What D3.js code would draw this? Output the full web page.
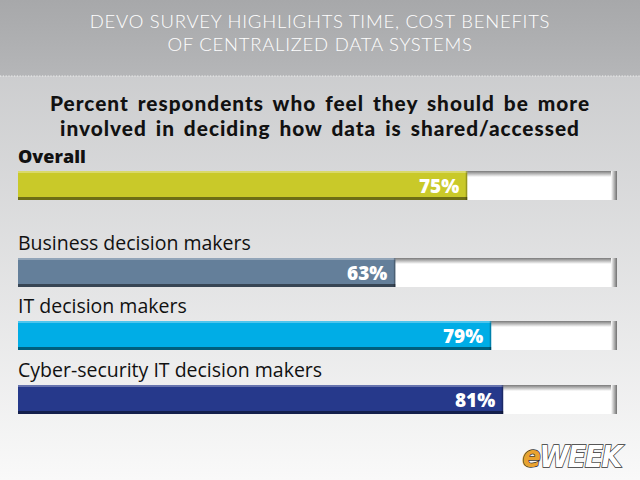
<!DOCTYPE html>
<html>
<head>
<meta charset="utf-8">
<script src="https://cdnjs.cloudflare.com/ajax/libs/d3/7.8.5/d3.min.js"></script>
<style>
  body { margin: 0; }
  svg { display: block; }
</style>
</head>
<body>
<div id="chart"></div>
<script>
// Data
const categories = ["Overall", "Business decision makers", "IT decision makers", "Cyber-security IT decision makers"];
const values = [75, 63, 79, 81];
const barColors = ["#c9c929", "#647f9a", "#00ade6", "#26398b"];
const titleLines = ["DEVO SURVEY HIGHLIGHTS TIME, COST BENEFITS", "OF CENTRALIZED DATA SYSTEMS"];
const subtitleLines = ["Percent respondents who feel they should be more", "involved in deciding how data is shared/accessed"];

const width = 640;
const height = 480;

const svg = d3.select("#chart")
  .append("svg")
  .attr("width", width)
  .attr("height", height);

const defs = svg.append("defs");

// background gradient (lower panel)
const bg = defs.append("linearGradient")
  .attr("id", "bg").attr("x1", 0).attr("y1", 0).attr("x2", 0).attr("y2", 1);
bg.append("stop").attr("offset", "0%").attr("stop-color", "#c4c5c7");
bg.append("stop").attr("offset", "100%").attr("stop-color", "#f9f9f9");

const head = defs.append("linearGradient")
  .attr("id", "head").attr("x1", 0).attr("y1", 0).attr("x2", 0).attr("y2", 1);
head.append("stop").attr("offset", "0%").attr("stop-color", "#a7a8aa");
head.append("stop").attr("offset", "100%").attr("stop-color", "#b5b6b8");

svg.append("rect").attr("width", width).attr("height", height).attr("fill", "url(#bg)");
svg.append("rect").attr("width", width).attr("height", 76).attr("fill", "url(#head)");

// dotted separator
svg.append("line")
  .attr("x1", 0).attr("x2", width).attr("y1", 76).attr("y2", 76)
  .attr("stroke", "#f2f2f2").attr("stroke-width", 1.2)
  .attr("stroke-dasharray", "1.2,1.6");

// header title, one text per line
svg.selectAll(".title")
  .data(titleLines)
  .enter()
  .append("text")
  .attr("class", "title")
  .attr("x", width / 2)
  .attr("y", (d, i) => 28 + i * 23)
  .attr("text-anchor", "middle")
  .attr("fill", "#ffffff")
  .style("font-family", "Lato, 'Open Sans', sans-serif")
  .style("font-weight", 300)
  .style("font-size", "18.5px")
  .style("letter-spacing", "0.75px")
  .text(d => d);

// subtitle
svg.selectAll(".subtitle")
  .data(subtitleLines)
  .enter()
  .append("text")
  .attr("class", "subtitle")
  .attr("x", width / 2)
  .attr("y", (d, i) => 111 + i * 25)
  .attr("text-anchor", "middle")
  .attr("fill", "#111111")
  .style("font-family", "Lato, 'Open Sans', sans-serif")
  .style("font-weight", 900)
  .style("font-size", "20.8px")
  .style("letter-spacing", "1px")
  .style("word-spacing", "3px")
  .text(d => d);

// scales
const xScale = d3.scaleLinear().domain([0, 100]).range([18, 617]);
const barTops = [171, 258, 321, 385];   // vertical slots
const yScale = d3.scaleOrdinal().domain(categories).range(barTops);
const barH = 29;

// gradients for track shadow
const trackShade = defs.append("linearGradient")
  .attr("id", "trackShade").attr("x1", 0).attr("y1", 0).attr("x2", 0).attr("y2", 1);
trackShade.append("stop").attr("offset", "0%").attr("stop-color", "#7a7a7a");
trackShade.append("stop").attr("offset", "100%").attr("stop-color", "#ffffff");
const trackSide = defs.append("linearGradient")
  .attr("id", "trackSide").attr("x1", 0).attr("y1", 0).attr("x2", 1).attr("y2", 0);
trackSide.append("stop").attr("offset", "0%").attr("stop-color", "#ffffff");
trackSide.append("stop").attr("offset", "100%").attr("stop-color", "#707070");

const rows = svg.selectAll(".row")
  .data(categories)
  .enter()
  .append("g")
  .attr("class", "row")
  .attr("transform", d => `translate(0,${yScale(d)})`);

// labels
rows.append("text")
  .attr("x", xScale(0))
  .attr("y", -8)
  .attr("fill", "#111111")
  .style("font-family", "'Open Sans', 'Noto Sans', sans-serif")
  .style("font-size", (d, i) => i === 0 ? "18px" : "19.5px")
  .style("font-weight", (d, i) => i === 0 ? 800 : 400)
  .text(d => d);

// white track
rows.append("rect")
  .attr("x", xScale(0))
  .attr("y", 0)
  .attr("width", xScale(100) - xScale(0))
  .attr("height", barH)
  .attr("fill", "#ffffff");
rows.append("rect")
  .attr("x", xScale(0))
  .attr("y", 0)
  .attr("width", xScale(100) - xScale(0))
  .attr("height", 6)
  .attr("fill", "url(#trackShade)");
rows.append("rect")
  .attr("x", xScale(100) - 6)
  .attr("y", 0)
  .attr("width", 6)
  .attr("height", barH)
  .attr("fill", "url(#trackSide)");

// filled bar
rows.append("rect")
  .attr("x", xScale(0))
  .attr("y", 0)
  .attr("width", (d, i) => xScale(values[i]) - xScale(0))
  .attr("height", barH)
  .attr("fill", (d, i) => barColors[i]);
// light top edge
rows.append("rect")
  .attr("x", xScale(0))
  .attr("y", 0)
  .attr("width", (d, i) => xScale(values[i]) - xScale(0))
  .attr("height", 2)
  .attr("fill", "#ffffff")
  .attr("opacity", 0.3);
// dark bottom edge
rows.append("rect")
  .attr("x", xScale(0))
  .attr("y", barH - 3)
  .attr("width", (d, i) => xScale(values[i]) - xScale(0))
  .attr("height", 3)
  .attr("fill", "#000000")
  .attr("opacity", 0.45);
// dark right edge
rows.append("rect")
  .attr("x", (d, i) => xScale(values[i]) - 1.5)
  .attr("y", 0)
  .attr("width", 1.5)
  .attr("height", barH)
  .attr("fill", "#000000")
  .attr("opacity", 0.25);

// value labels
rows.append("text")
  .attr("x", (d, i) => xScale(values[i]) - 8)
  .attr("y", barH / 2 + 7)
  .attr("text-anchor", "end")
  .attr("fill", "#ffffff")
  .style("font-family", "'Open Sans', 'Noto Sans', sans-serif")
  .style("font-weight", 800)
  .style("font-size", "19px")
  .text((d, i) => values[i] + "%");

// eWEEK logo
const logo = svg.append("text")
  .attr("x", 621)
  .attr("y", 467)
  .attr("text-anchor", "end")
  .style("font-family", "'Liberation Sans Narrow', 'DejaVu Sans Condensed', sans-serif")
  .style("font-weight", 700)
  .style("font-style", "italic")
  .style("font-size", "30px")
  .style("letter-spacing", "-1.5px")
  .attr("stroke", "#333")
  .attr("stroke-width", 1.4)
  .attr("paint-order", "stroke");
logo.append("tspan").attr("fill", "#e9a22f").text("e");
logo.append("tspan").attr("fill", "#ffffff").text("WEEK");
</script>
</body>
</html>
